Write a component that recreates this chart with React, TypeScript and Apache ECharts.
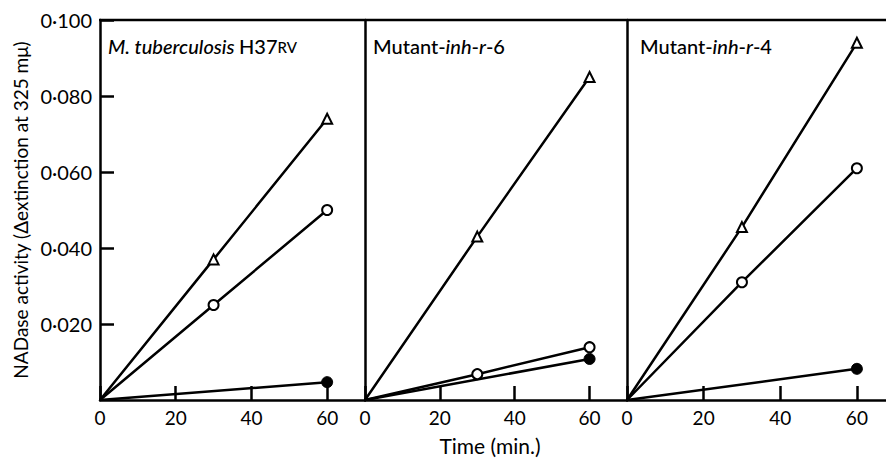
import React, { useEffect, useRef } from "react";
import * as echarts from "echarts";

// ---- data ----
const xTicks = [0, 20, 40, 60];
const yTicks = ["0·020", "0·040", "0·060", "0·080", "0·100"];
const panelTitles = [
  "{i|M. tuberculosis} {n|H37}{s|RV}",
  "{n|Mutant-}{i|inh}{n|-}{i|r}{n|-6}",
  "{n|Mutant-}{i|inh}{n|-}{i|r}{n|-4}",
];
const times3 = [0, 30, 60];
const times2 = [0, 60];
// panel 1: M. tuberculosis H37RV
const h37Triangle = [0, 0.037, 0.074];
const h37Open = [0, 0.025, 0.05];
const h37Filled = [0, 0.0047];
// panel 2: Mutant-inh-r-6
const r6Triangle = [0, 0.043, 0.085];
const r6Open = [0, 0.0068, 0.0139];
const r6Filled = [0, 0.0108];
// panel 3: Mutant-inh-r-4
const r4Triangle = [0, 0.0455, 0.094];
const r4Open = [0, 0.031, 0.061];
const r4Filled = [0, 0.0082];

const FONT = "Lato, 'Open Sans', sans-serif";

export default function App() {
  const ref = useRef<HTMLDivElement>(null);
  useEffect(() => {
    document.body.style.margin = "0";
    const chart = echarts.init(ref.current!, null, { renderer: "svg" });
    const grids = [
      { left: 100, top: 20, width: 265, height: 380 },
      { left: 365, top: 20, width: 262, height: 380 },
      { left: 627, top: 20, width: 259, height: 380 },
    ];
    const xMax = [70, 70, 67.6];
    const mk = (times: number[], vals: number[]) =>
      times.map((t, i) => ({
        value: [t, vals[i]],
        symbol: t === 0 ? "none" : undefined,
      }));
    const panels = [
      [h37Triangle, h37Open, h37Filled],
      [r6Triangle, r6Open, r6Filled],
      [r4Triangle, r4Open, r4Filled],
    ];
    const line = { color: "#000", width: 2.5 };
    const series: any[] = [];
    panels.forEach((p, gi) => {
      series.push({
        type: "line",
        xAxisIndex: gi,
        yAxisIndex: gi,
        data: mk(times3, p[0]),
        symbol: "triangle",
        symbolSize: 10,
        lineStyle: line,
        itemStyle: { color: "#fff", borderColor: "#000", borderWidth: 2 },
        z: 3,
      });
      series.push({
        type: "line",
        xAxisIndex: gi,
        yAxisIndex: gi,
        data: mk(times3, p[1]),
        symbol: "circle",
        symbolSize: 10,
        lineStyle: line,
        itemStyle: { color: "#fff", borderColor: "#000", borderWidth: 2 },
        z: 3,
      });
      series.push({
        type: "line",
        xAxisIndex: gi,
        yAxisIndex: gi,
        data: mk(times2, p[2]),
        symbol: "circle",
        symbolSize: 11,
        lineStyle: line,
        itemStyle: { color: "#000", borderColor: "#000", borderWidth: 1 },
        z: 3,
      });
    });
    const rs = (extra: any) => ({
      fontFamily: FONT,
      color: "#000",
      fontWeight: 500,
      lineHeight: 24,
      ...extra,
    });
    const option: any = {
      animation: false,
      backgroundColor: "#fff",
      textStyle: { fontFamily: FONT },
      grid: grids,
      title: panelTitles.map((t, i) => ({
        text: t,
        left: [108, 373, 640][i],
        top: 34,
        padding: 0,
        textStyle: {
          rich: {
            i: rs({ fontStyle: "italic", fontSize: 20 }),
            n: rs({ fontSize: 20 }),
            s: rs({ fontSize: 15, padding: [2, 0, 0, 0] }),
          },
        },
      })),
      xAxis: grids.map((_, i) => ({
        type: "value",
        gridIndex: i,
        min: 0,
        max: xMax[i],
        interval: 20,
        axisLine: { show: true, onZero: false, lineStyle: { color: "#000", width: 2.5 } },
        axisTick: {
          show: true,
          inside: true,
          length: 14,
          lineStyle: { color: "#000", width: 2.5 },
        },
        splitLine: { show: false },
        axisLabel: {
          color: "#000",
          fontSize: 19,
          fontFamily: FONT,
          margin: 8,
          showMaxLabel: false,
          formatter: (v: number) => (xTicks.includes(v) ? String(v) : ""),
        },
      })),
      yAxis: grids.map((_, i) => ({
        type: "value",
        gridIndex: i,
        min: 0,
        max: 0.1,
        interval: 0.02,
        axisLine: { show: true, lineStyle: { color: "#000", width: 2.5 } },
        axisTick: {
          show: i === 0,
          inside: true,
          length: 14,
          lineStyle: { color: "#000", width: 2.5 },
        },
        splitLine: { show: false },
        axisLabel: {
          show: i === 0,
          color: "#000",
          fontSize: 20,
          fontFamily: FONT,
          margin: 8,
          showMinLabel: false,
          formatter: (v: number) => {
            const idx = Math.round(v / 0.02) - 1;
            return idx >= 0 && idx < yTicks.length ? yTicks[idx] : "";
          },
        },
        name: i === 0 ? "NADase activity (Δextinction at 325 mμ)" : "",
        nameLocation: "middle",
        nameRotate: 90,
        nameGap: 70,
        nameTextStyle: { color: "#000", fontSize: 19, fontFamily: FONT },
      })),
      graphic: [
        {
          type: "line",
          shape: { x1: 99, y1: 20, x2: 886, y2: 20 },
          style: { stroke: "#000", lineWidth: 2.5 },
        },
        {
          type: "text",
          x: 490,
          y: 445,
          style: {
            text: "Time (min.)",
            fontSize: 21,
            fontFamily: FONT,
            fill: "#000",
            align: "center",
            verticalAlign: "middle",
          },
        },
      ],
      series,
    };
    chart.setOption(option);
    return () => chart.dispose();
  }, []);
  return <div ref={ref} style={{ width: 886, height: 458 }} />;
}
